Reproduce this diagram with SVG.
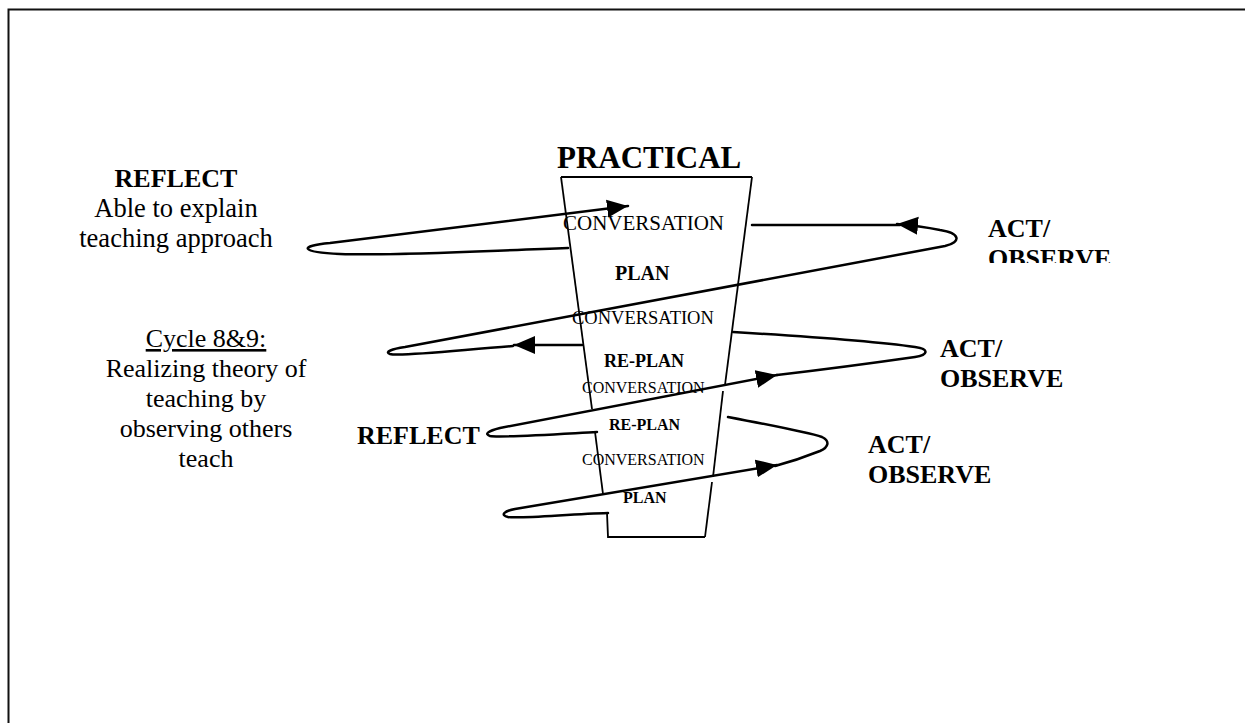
<svg xmlns="http://www.w3.org/2000/svg" width="1245" height="723" viewBox="0 0 1245 723">
<style>
text{font-family:"Liberation Serif","Times New Roman",serif;fill:#000}
.b{font-weight:bold}
.c{fill:none;stroke:#000;stroke-width:2.5;stroke-linecap:round;stroke-linejoin:round}
.e{fill:none;stroke:#000;stroke-width:1.8}
</style>
<defs>
<marker id="ah" markerUnits="userSpaceOnUse" viewBox="0 0 22 20" markerWidth="22" markerHeight="20" refX="21" refY="10" orient="auto">
<path d="M0,1 L21,10 L0,19 z" fill="#000"/>
</marker>
<clipPath id="clipObs"><rect x="900" y="200" width="300" height="63"/></clipPath>
</defs>
<rect width="1245" height="723" fill="#fff"/>
<path d="M8.5,723 L8.5,9.5 L1245,9.5" fill="none" stroke="#111" stroke-width="2"/>

<g id="funnel">
<path class="e" d="M561,177 L752,177"/>
<path class="e" d="M561,177 L592,409"/>
<path class="e" d="M595,432 L603,494"/>
<path class="e" d="M607,513 L608,537 L705,537"/>
<path class="e" d="M752,177 L725,385"/>
<path class="e" d="M723,391 L713,477"/>
<path class="e" d="M712,482 L705,537"/>
</g>

<g id="connectors">
<path class="c" d="M568,248 C480,251 400,256 340,254 C300,252 298,246 330,243 L628,206" marker-end="url(#ah)"/>
<path class="c" d="M752,225 L900,225"/>
<path class="c" d="M513,346 C460,350 400,357 390,354 C384,352 392,349 405,347 L945,246 C962,242 960,233 940,230 C930,228 920,226 897,224" marker-end="url(#ah)"/>
<path class="c" d="M582,345 L514,345" marker-end="url(#ah)"/>
<path class="c" d="M733,332 C800,336 880,342 915,347 C930,349 928,355 915,357 C880,362 820,370 777,375"/>
<path class="c" d="M597,432 C560,434 500,438 490,436 C484,434 488,431 500,428 L777,375" marker-end="url(#ah)"/>
<path class="c" d="M728,417 C770,425 810,433 822,437 C830,441 829,447 820,451 C805,457 790,462 775,466"/>
<path class="c" d="M608,513 C570,514 520,519 508,517 C500,515 504,511 515,509 L777,465" marker-end="url(#ah)"/>
</g>

<g id="practical"><text class="b" x="557" y="168" font-size="31">PRACTICAL</text></g>
<g id="conv1"><text x="563" y="230" font-size="21">CONVERSATION</text></g>
<g id="plan1"><text class="b" x="615" y="280" font-size="20">PLAN</text></g>
<g id="conv2"><text x="572" y="324" font-size="18.5">CONVERSATION</text></g>
<g id="replan1"><text class="b" x="604" y="367" font-size="18">RE-PLAN</text></g>
<g id="conv3"><text x="582" y="393" font-size="16">CONVERSATION</text></g>
<g id="replan2"><text class="b" x="609" y="430" font-size="16">RE-PLAN</text></g>
<g id="conv4"><text x="582" y="465" font-size="16">CONVERSATION</text></g>
<g id="plan2"><text class="b" x="623" y="503" font-size="16">PLAN</text></g>

<g id="reflect-top" text-anchor="middle">
<text class="b" x="176" y="187" font-size="26">REFLECT</text>
<text x="176" y="217" font-size="26.5">Able to explain</text>
<text x="176" y="247" font-size="26.5">teaching approach</text>
</g>

<g id="cycle" text-anchor="middle">
<text x="206" y="347" font-size="26" text-decoration="underline">Cycle 8&amp;9:</text>
<text x="206" y="377" font-size="26">Realizing theory of</text>
<text x="206" y="407" font-size="26">teaching by</text>
<text x="206" y="437" font-size="26">observing others</text>
<text x="206" y="467" font-size="26">teach</text>
</g>

<g id="reflect-mid"><text class="b" x="357" y="444" font-size="26">REFLECT</text></g>

<g id="act1">
<text class="b" x="988" y="237" font-size="26">ACT/</text>
<text class="b" x="988" y="267" font-size="26" clip-path="url(#clipObs)">OBSERVE</text>
</g>
<g id="act2">
<text class="b" x="940" y="357" font-size="26">ACT/</text>
<text class="b" x="940" y="387" font-size="26">OBSERVE</text>
</g>
<g id="act3">
<text class="b" x="868" y="453" font-size="26">ACT/</text>
<text class="b" x="868" y="483" font-size="26">OBSERVE</text>
</g>
</svg>
